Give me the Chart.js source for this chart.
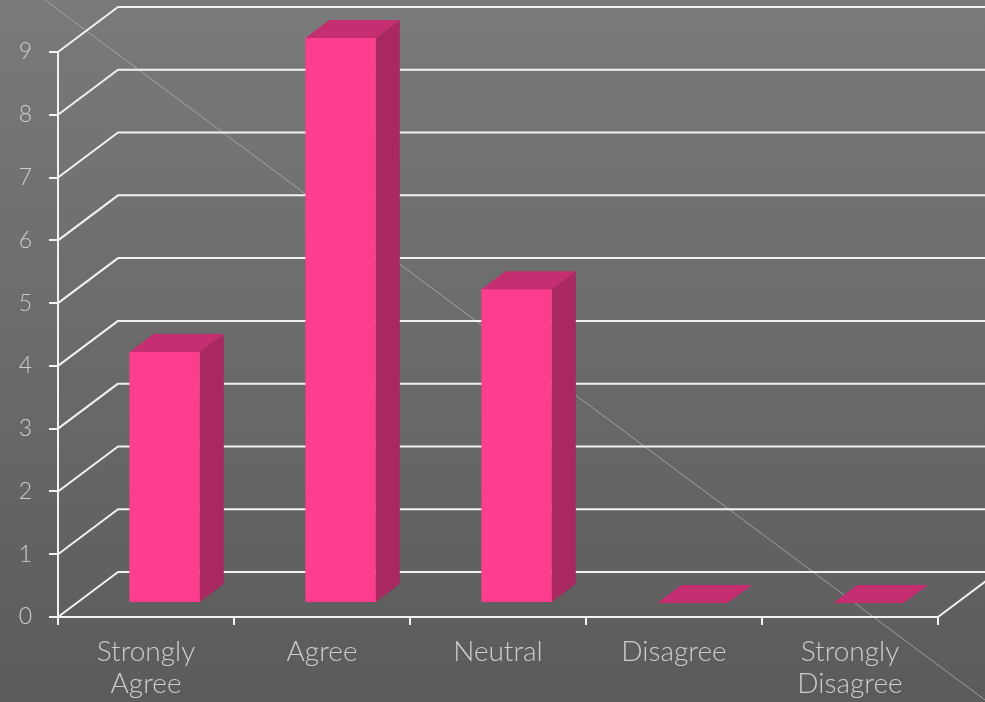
<!DOCTYPE html>
<html>
<head>
<meta charset="utf-8">
<script src="https://cdn.jsdelivr.net/npm/chart.js@4.4.1/dist/chart.umd.min.js"></script>
<style>
  html, body { margin: 0; padding: 0; background: #6a6a6a; }
  #wrap { width: 985px; height: 702px; }
</style>
</head>
<body>
<div id="wrap"><canvas id="survey-chart" width="985" height="702"></canvas></div>
<script>
const categories = [["Strongly", "Agree"], "Agree", "Neutral", "Disagree", ["Strongly", "Disagree"]];
const responses = [4, 9, 5, 0, 0];
const yTicks = [0, 1, 2, 3, 4, 5, 6, 7, 8, 9];

// floor depth, from the front axis to the back wall
const DEPTH_X = 60, DEPTH_Y = 45;
// where the bars sit inside that depth (0 = front, 1 = back)
const BAR_NEAR = 0.31, BAR_FAR = 0.71;

const LINE = '#f2f2f2';
const LABEL = '#cdcdcd';

const backdrop = {
    id: 'backdrop',
    beforeDraw(chart) {
        const { ctx, width, height } = chart;
        const g = ctx.createLinearGradient(0, 0, 0, height);
        g.addColorStop(0, '#7a7a7a');
        g.addColorStop(1, '#5b5b5b');
        ctx.save();
        ctx.fillStyle = g;
        ctx.fillRect(0, 0, width, height);
        // thin diagonal streak across the slide
        ctx.strokeStyle = 'rgba(175,175,175,0.8)';
        ctx.lineWidth = 1;
        ctx.beginPath();
        ctx.moveTo(45, 0);
        ctx.lineTo(985, 700);
        ctx.stroke();
        ctx.restore();
    }
};

const walls = {
    id: 'walls',
    beforeDatasetsDraw(chart) {
        const { ctx, chartArea: a, scales: { y } } = chart;
        ctx.save();
        ctx.strokeStyle = LINE;
        ctx.lineWidth = 2;
        ctx.lineJoin = 'round';
        y.ticks.forEach(t => {
            const py = y.getPixelForValue(t.value);
            ctx.beginPath();
            ctx.moveTo(a.left, py);
            ctx.lineTo(a.left + DEPTH_X, py - DEPTH_Y);
            ctx.lineTo(a.right + DEPTH_X, py - DEPTH_Y);
            ctx.stroke();
        });
        // right edge of the floor
        const base = y.getPixelForValue(0);
        ctx.beginPath();
        ctx.moveTo(a.right, base);
        ctx.lineTo(a.right + DEPTH_X, base - DEPTH_Y);
        ctx.stroke();
        ctx.restore();
    }
};

const bars3d = {
    id: 'bars3d',
    afterDatasetsDraw(chart) {
        const { ctx } = chart;
        const meta = chart.getDatasetMeta(0);
        const nx = DEPTH_X * BAR_NEAR, ny = DEPTH_Y * BAR_NEAR;
        const dx = DEPTH_X * (BAR_FAR - BAR_NEAR), dy = DEPTH_Y * (BAR_FAR - BAR_NEAR);
        ctx.save();
        meta.data.forEach(bar => {
            const { x, y, base, width } = bar.getProps(['x', 'y', 'base', 'width'], true);
            const l = x - width / 2 + nx, r = x + width / 2 + nx;
            const t = y - ny, b = base - ny;
            if (b - t > 0.5) {
                // side face
                ctx.fillStyle = '#a8285f';
                ctx.beginPath();
                ctx.moveTo(r, t);
                ctx.lineTo(r + dx, t - dy);
                ctx.lineTo(r + dx, b - dy);
                ctx.lineTo(r, b);
                ctx.closePath();
                ctx.fill();
                // front face
                ctx.fillStyle = '#ff3d8e';
                ctx.fillRect(l, t, r - l, b - t);
            }
            // top face
            ctx.fillStyle = '#c52e70';
            ctx.beginPath();
            ctx.moveTo(l, t);
            ctx.lineTo(l + dx, t - dy);
            ctx.lineTo(r + dx, t - dy);
            ctx.lineTo(r, t);
            ctx.closePath();
            ctx.fill();
        });
        ctx.restore();
    }
};

const ctx = document.getElementById('survey-chart').getContext('2d');
new Chart(ctx, {
    type: 'bar',
    data: {
        labels: categories,
        datasets: [{
            data: responses,
            backgroundColor: 'rgba(0,0,0,0)',
            borderWidth: 0,
            barPercentage: 0.4,
            categoryPercentage: 1
        }]
    },
    options: {
        responsive: false,
        animation: false,
        layout: { padding: { top: 52, right: 47, left: 0, bottom: 0 } },
        plugins: {
            legend: { display: false },
            tooltip: { enabled: false }
        },
        scales: {
            x: {
                grid: { offset: true, drawOnChartArea: false, color: LINE, lineWidth: 2, tickLength: 8 },
                border: { color: LINE, width: 2 },
                ticks: {
                    color: LABEL,
                    padding: 11,
                    maxRotation: 0,
                    autoSkip: false,
                    font: { family: 'Lato, "Open Sans", sans-serif', size: 28, weight: '300', lineHeight: 1.14 }
                },
                afterFit(s) { s.height = 85; }
            },
            y: {
                min: yTicks[0],
                max: yTicks[yTicks.length - 1],
                grid: { drawOnChartArea: false, color: LINE, lineWidth: 2, tickLength: 9 },
                border: { color: LINE, width: 2 },
                ticks: {
                    stepSize: 1,
                    color: LABEL,
                    padding: 17,
                    font: { family: 'Lato, "Open Sans", sans-serif', size: 23, weight: '300' }
                },
                afterFit(s) { s.width = 58; }
            }
        }
    },
    plugins: [backdrop, walls, bars3d]
});
</script>
</body>
</html>
